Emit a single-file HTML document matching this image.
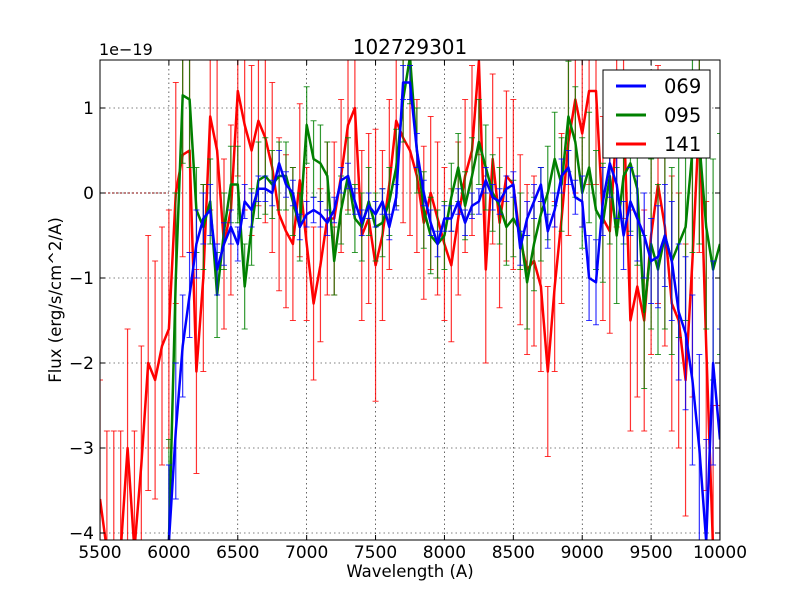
<!DOCTYPE html>
<html><head><meta charset="utf-8"><style>
html,body{margin:0;padding:0;background:#fff;width:800px;height:600px;overflow:hidden;}
svg{display:block;}
svg text{font-family:"DejaVu Sans","Liberation Sans",sans-serif;}
</style></head><body>
<svg id="chart" width="800" height="600" xmlns="http://www.w3.org/2000/svg">
<rect x="0" y="0" width="800" height="600" fill="#fff"/>
<defs><clipPath id="clip"><rect x="100" y="60" width="620" height="480"/></clipPath></defs>
<g id="grid"></g>
<g id="series" clip-path="url(#clip)"></g>
<rect x="100" y="60" width="620" height="480" fill="none" stroke="#000" stroke-width="1"/>
<g id="axes"></g>
<text x="410" y="54" style="font-size:20px" text-anchor="middle">102729301</text>
<text x="99" y="55" style="font-size:16px">1e−19</text>
<text x="410" y="577" style="font-size:16.5px" text-anchor="middle">Wavelength (A)</text>
<text x="61" y="300" style="font-size:16.5px" text-anchor="middle" transform="rotate(-90 61 300)">Flux (erg/s/cm^2/A)</text>
<g>
<rect x="603" y="70" width="107" height="88" fill="#fff" stroke="#000" stroke-width="1"/>
<line x1="616" y1="86" x2="646" y2="86" stroke="#0000ff" stroke-width="3"/>
<text x="664" y="93" style="font-size:19.5px">069</text>
<line x1="616" y1="115" x2="646" y2="115" stroke="#008000" stroke-width="3"/>
<text x="664" y="122" style="font-size:19.5px">095</text>
<line x1="616" y1="144" x2="646" y2="144" stroke="#ff0000" stroke-width="3"/>
<text x="664" y="151" style="font-size:19.5px">141</text>
</g>
</svg>
<script>
const xTicks=[5500,6000,6500,7000,7500,8000,8500,9000,9500,10000];
const yTicks=[1,0,-1,-2,-3,-4];
const yTickLabels=["1","0","−1","−2","−3","−4"];
const blueStart=6000, greenStart=6000, redStart=5500, step=50;
const blueVals=[-4.1,-2.8,-1.8,-1.2,-0.6,-0.3,-0.2,-0.9,-0.6,-0.4,-0.6,-0.1,-0.2,0.05,0.05,0.0,0.35,0.1,0.0,-0.4,-0.25,-0.2,-0.25,-0.35,-0.2,0.15,0.2,-0.1,-0.35,-0.15,-0.25,-0.1,-0.4,-0.05,1.3,1.3,0.5,0.0,-0.35,-0.6,-0.3,-0.3,-0.1,-0.35,-0.15,-0.1,0.15,-0.05,-0.1,0.05,0.1,-0.65,-0.3,-0.1,0.1,-0.45,-0.2,0.2,0.3,-0.05,-0.1,-1.0,-1.05,-0.1,0.35,0.1,-0.5,-0.1,-0.3,-0.5,-0.8,-0.75,-0.5,-0.8,-1.4,-1.65,-2.2,-3.0,-4.1,-2.0,-2.9];
const blueErr=[0.9,0.8,0.6,0.5,0.4,0.3,0.3,0.3,0.25,0.2,0.2,0.2,0.2,0.15,0.15,0.15,0.15,0.15,0.15,0.15,0.15,0.15,0.15,0.15,0.15,0.15,0.15,0.15,0.15,0.15,0.15,0.15,0.15,0.15,0.2,0.2,0.2,0.15,0.15,0.15,0.15,0.15,0.15,0.15,0.15,0.15,0.15,0.15,0.15,0.15,0.15,0.2,0.2,0.2,0.2,0.2,0.2,0.2,0.2,0.2,0.3,0.5,0.5,0.4,0.4,0.4,0.4,0.4,0.5,0.5,0.5,0.6,0.6,0.7,0.8,0.9,1.0,1.1,1.2,1.2,1.3];
const greenVals=[-4.1,-1.0,1.15,1.1,-0.2,-0.4,-0.1,-1.2,-0.45,0.1,0.1,-1.1,-0.4,0.15,0.2,0.1,0.2,0.2,-0.1,-0.4,0.8,0.4,0.35,0.2,-0.8,-0.2,0.2,-0.3,-0.4,-0.1,-0.4,-0.35,-0.1,0.3,1.1,1.6,0.5,-0.2,-0.5,-0.6,-0.5,-0.05,0.3,-0.15,0.2,0.6,0.3,0.0,-0.15,-0.4,-0.3,-0.45,-1.05,-0.6,-0.25,0.0,0.4,0.1,0.9,0.6,0.0,0.3,-0.2,-0.35,0.2,-0.5,0.2,0.35,0.05,-1.4,-0.6,-0.9,-0.5,-0.8,-0.6,-0.4,0.5,0.6,-0.4,-0.9,-0.6];
const greenErr=[1.2,1.0,0.8,0.8,0.5,0.5,0.5,0.5,0.45,0.45,0.45,0.5,0.45,0.45,0.45,0.4,0.4,0.4,0.4,0.4,0.45,0.45,0.45,0.4,0.4,0.4,0.45,0.4,0.4,0.4,0.4,0.4,0.4,0.45,0.5,0.55,0.5,0.45,0.45,0.4,0.4,0.4,0.4,0.4,0.45,0.5,0.5,0.45,0.45,0.45,0.45,0.45,0.55,0.55,0.55,0.55,0.55,0.55,0.65,0.65,0.65,0.65,0.7,0.7,0.8,0.8,0.8,0.8,0.9,0.9,1.0,1.0,1.1,1.1,1.1,1.1,1.2,1.2,1.2,1.3,1.3];
const redVals=[-3.6,-4.2,-4.2,-4.2,-3.0,-4.2,-3.2,-2.0,-2.2,-1.8,-1.6,0.0,0.45,0.5,-2.1,-1.0,0.9,0.5,-0.6,-0.2,1.2,0.8,0.5,0.85,0.65,0.3,-0.25,-0.45,-0.6,0.15,-0.6,-1.3,-0.85,-0.3,-0.3,0.2,0.8,1.0,-0.5,-0.3,-0.85,-0.5,0.1,0.85,0.65,0.5,0.2,-0.35,0.0,-0.3,-0.6,-0.85,-0.3,0.2,0.5,1.55,-0.9,0.4,-0.35,0.2,0.1,-0.55,-0.9,-0.8,-1.1,-2.1,-1.1,-0.3,0.6,1.1,0.7,1.2,1.2,-0.3,-0.45,0.8,1.0,-1.5,-1.1,-1.5,-0.5,0.1,-0.4,-1.3,-1.5,-2.2,-0.8,0.9,-1.8,-4.2,-4.2];
const redErr=[1.4,1.4,1.4,1.4,1.4,1.4,1.4,1.5,1.4,1.4,1.4,1.3,1.2,1.2,1.2,1.1,1.1,1.1,1.0,1.0,1.0,1.0,1.0,1.0,1.0,1.0,0.9,0.9,0.9,0.9,0.9,0.9,0.9,0.9,0.9,0.9,1.0,1.0,1.0,1.0,1.6,1.0,1.0,1.0,1.0,1.0,0.9,0.9,0.9,0.9,0.9,0.9,0.9,0.9,1.0,1.1,1.1,1.0,1.0,1.0,1.0,1.0,1.0,1.0,1.0,1.0,1.0,1.0,1.1,1.1,1.1,1.1,1.1,1.2,1.2,1.2,1.3,1.3,1.3,1.3,1.4,1.4,1.4,1.5,1.5,1.6,1.6,1.6,1.7,1.7,1.7];
const flatStart=5500, flatVals=[0,0,0,0,0,0,0,0,0,0,0];

const NS="http://www.w3.org/2000/svg";
function xs(v){return 100+(v-5500)*620/4500;}
function ys(v){return 193-v*85;}
function mk(tag,attrs,parent){const e=document.createElementNS(NS,tag);for(const k in attrs)e.setAttribute(k,attrs[k]);parent.appendChild(e);return e;}
const grid=document.getElementById('grid'),axes=document.getElementById('axes'),ser=document.getElementById('series');
xTicks.forEach((t,i)=>{
  const x=xs(t);
  const g=mk('line',{x1:x,y1:60,x2:x,y2:540,stroke:'#000','stroke-width':0.6,'stroke-dasharray':'1.5,3'},grid);
  
  
  const a=mk('line',{x1:x,y1:540,x2:x,y2:535,stroke:'#000'},axes);
  
  
  const b=mk('line',{x1:x,y1:60,x2:x,y2:65,stroke:'#000'},axes);
  
  
  const tx=mk('text',{x:x,y:558,'text-anchor':'middle',style:'font-size:17px'},axes);
  tx.textContent=String(t);
  
  
});
yTicks.forEach((t,i)=>{
  const y=ys(t);
  const g=mk('line',{x1:100,y1:y,x2:720,y2:y,stroke:'#000','stroke-width':0.6,'stroke-dasharray':'1.5,3'},grid);
  
  
  const a=mk('line',{x1:100,y1:y,x2:105,y2:y,stroke:'#000'},axes);
  
  
  const b=mk('line',{x1:720,y1:y,x2:715,y2:y,stroke:'#000'},axes);
  
  
  const tx=mk('text',{x:94,y:y+6,'text-anchor':'end',style:'font-size:17px'},axes);
  tx.textContent=yTickLabels[i];
  
  
});
function drawSeries(name,start,vals,errs,color,lw){
  const g=mk('g',{},ser);
  
  
  vals.forEach((v,i)=>{
    const x=xs(start+i*step),e=errs[i]||0.5;
    const l=mk('line',{x1:x,y1:ys(v+e),x2:x,y2:ys(v-e),stroke:color,'stroke-width':1.2,opacity:0.8},g);
    
    
    [v+e,v-e].forEach(c=>{
      const cap=mk('line',{x1:x-3,y1:ys(c),x2:x+3,y2:ys(c),stroke:color,'stroke-width':1,opacity:0.8},g);
      
      
    });
  });
  const pts=vals.map((v,i)=>xs(start+i*step).toFixed(1)+','+ys(v).toFixed(1)).join(' ');
  const p=mk('polyline',{points:pts,fill:'none',stroke:color,'stroke-width':lw,'stroke-linejoin':'round'},g);
  
  
}
const fl=mk('polyline',{points:flatVals.map((v,i)=>xs(flatStart+i*step)+','+ys(v)).join(' '),fill:'none',stroke:'#800000','stroke-width':1,'stroke-dasharray':'2,2'},ser);


drawSeries('141',redStart,redVals,redErr,'#ff0000',2.5);
drawSeries('095',greenStart,greenVals,greenErr,'#008000',2.5);
drawSeries('069',blueStart,blueVals,blueErr,'#0000ff',2.5);
</script>
</body></html>
